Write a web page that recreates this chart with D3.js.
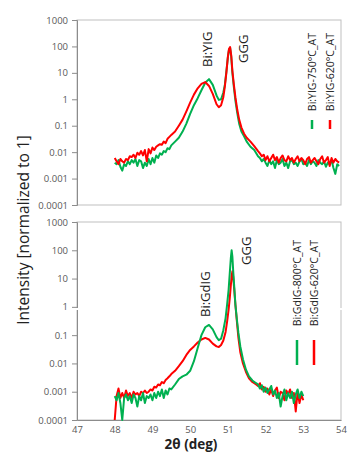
<!DOCTYPE html>
<html>
<head>
<meta charset="utf-8">
<script src="https://cdn.jsdelivr.net/npm/d3@7"></script>
<style>
	body { margin: 0; background: #fff; }
	svg { display: block; font-family: "Open Sans", sans-serif; }
</style>
</head>
<body>
<svg id="chart" width="348" height="455"></svg>
<script>
const yTicks = [1e-4, 1e-3, 1e-2, 1e-1, 1, 10, 100, 1000];
const yTickLabels = ["0.0001", "0.001", "0.01", "0.1", "1", "10", "100", "1000"];
const xTicks = [47, 48, 49, 50, 51, 52, 53, 54];
const xTickLabels = ["47", "48", "49", "50", "51", "52", "53", "54"];

// top panel (Bi:YIG on GGG)
const topX = [
	48.00, 48.05, 48.10, 48.15, 48.20, 48.25, 48.30, 48.35, 48.40, 48.45, 48.50, 48.55, 48.60, 48.65, 48.70, 48.75,
	48.80, 48.85, 48.90, 48.95, 49.00, 49.05, 49.10, 49.15, 49.20, 49.25, 49.30, 49.35, 49.40, 49.45, 49.50,
	49.6, 49.7, 49.8, 49.9, 50.0, 50.1, 50.2, 50.3, 50.4, 50.5, 50.6, 50.7,
	50.76, 50.82, 50.88, 50.92, 50.96, 51.00, 51.03, 51.06, 51.09, 51.12, 51.16, 51.20, 51.25, 51.30, 51.36, 51.43,
	51.50, 51.60, 51.70, 51.80,
	51.85, 51.90, 51.95, 52.00, 52.05, 52.10, 52.15, 52.20, 52.25, 52.30, 52.35, 52.40, 52.45, 52.50, 52.55, 52.60,
	52.65, 52.70, 52.75, 52.80, 52.85, 52.90, 52.95, 53.00, 53.05, 53.10, 53.15, 53.20, 53.25, 53.30, 53.35, 53.40,
	53.45, 53.50, 53.55, 53.60, 53.65, 53.70, 53.75, 53.80, 53.85, 53.90, 53.95
];
const topGreen750 = [
	0.004, 0.0035, 0.005, 0.0028, 0.002, 0.0035, 0.003, 0.0045, 0.0035, 0.005, 0.004, 0.0055, 0.003, 0.005, 0.0045, 0.0025,
	0.004, 0.003, 0.0055, 0.0035, 0.006, 0.004, 0.0075, 0.006, 0.009, 0.008, 0.011, 0.01, 0.014, 0.013, 0.018,
	0.025, 0.035, 0.06, 0.12, 0.28, 0.6, 1.1, 2.2, 4.2, 5.8, 3.5, 1.4,
	0.95, 1.0, 1.8, 3.5, 11, 38, 75, 88, 40, 10, 2.8, 0.9, 0.3, 0.12, 0.06, 0.04,
	0.025, 0.016, 0.012, 0.007,
	0.006, 0.0045, 0.0055, 0.004, 0.003, 0.005, 0.0035, 0.0045, 0.0025, 0.005, 0.0035, 0.004, 0.0055, 0.003, 0.004, 0.0025,
	0.0045, 0.005, 0.0035, 0.004, 0.003, 0.0045, 0.0055, 0.0035, 0.004, 0.003, 0.005, 0.0035, 0.0045, 0.004, 0.003, 0.005,
	0.004, 0.0035, 0.0045, 0.0028, 0.004, 0.0035, 0.005, 0.0025, 0.0015, 0.0035, 0.003
];
const topRed620 = [
	0.006, 0.0045, 0.0035, 0.0055, 0.0045, 0.004, 0.0055, 0.005, 0.007, 0.0065, 0.008, 0.006, 0.0095, 0.008, 0.011, 0.0075,
	0.012, 0.0045, 0.013, 0.009, 0.015, 0.012, 0.016, 0.018, 0.02, 0.019, 0.025, 0.022, 0.032, 0.038, 0.045,
	0.06, 0.1, 0.17, 0.35, 0.75, 1.5, 2.6, 3.8, 4.5, 3.2, 1.6, 0.65,
	0.5, 0.6, 1.2, 3, 10, 40, 80, 95, 45, 12, 3.5, 1.2, 0.4, 0.17, 0.085, 0.05,
	0.035, 0.025, 0.017, 0.011,
	0.009, 0.007, 0.008, 0.005, 0.007, 0.0045, 0.006, 0.008, 0.005, 0.0065, 0.004, 0.006, 0.0075, 0.005, 0.0045, 0.007,
	0.005, 0.006, 0.004, 0.0055, 0.007, 0.0045, 0.006, 0.005, 0.0035, 0.0055, 0.0065, 0.004, 0.005, 0.006, 0.0045, 0.0035,
	0.0055, 0.007, 0.004, 0.005, 0.0065, 0.003, 0.006, 0.004, 0.0055, 0.0045, 0.004
];

// bottom panel (Bi:GdIG on GGG)
const botX = [
	48.00, 48.05, 48.10, 48.15, 48.20, 48.25, 48.30, 48.35, 48.40, 48.45, 48.50, 48.55, 48.60, 48.65, 48.70, 48.75,
	48.80, 48.85, 48.90, 48.95, 49.00, 49.05, 49.10, 49.15, 49.20, 49.25, 49.30, 49.35, 49.40, 49.45, 49.50,
	49.6, 49.7, 49.8, 49.9, 50.0, 50.1, 50.2, 50.3, 50.4, 50.5, 50.6, 50.7,
	50.76, 50.82, 50.88, 50.94, 50.98, 51.02, 51.05, 51.08, 51.10, 51.12, 51.14, 51.17, 51.20, 51.24, 51.28, 51.33,
	51.40, 51.48, 51.56, 51.65, 51.75,
	51.80, 51.85, 51.90, 51.95, 52.00, 52.05, 52.10, 52.15, 52.20, 52.25, 52.30, 52.35, 52.40, 52.45, 52.50, 52.55,
	52.60, 52.65, 52.70, 52.75, 52.80, 52.85, 52.90, 52.95, 53.00
];
const botGreen800 = [
	0.0007, 0.0005, 0.0009, 0.0004, 0.0001, 0.0006, 0.0008, 0.0005, 0.0007, 0.0004, 0.0008, 0.0006, 0.0003, 0.0007, 0.0005, 0.0009,
	0.0004, 0.0007, 0.0006, 0.0008, 0.0005, 0.0009, 0.0006, 0.001, 0.0007, 0.0012, 0.0006, 0.0011, 0.0008, 0.0013, 0.0012,
	0.0018, 0.0028, 0.0035, 0.004, 0.0055, 0.012, 0.035, 0.1, 0.19, 0.23, 0.16, 0.085,
	0.066, 0.075, 0.15, 0.4, 1.2, 4, 15, 55, 100, 60, 20, 5, 1.2, 0.35, 0.12, 0.04,
	0.014, 0.006, 0.0035, 0.0025, 0.002,
	0.0018, 0.0013, 0.0017, 0.001, 0.0014, 0.0009, 0.0012, 0.0016, 0.0008, 0.0011, 0.0006, 0.0009, 0.0003, 0.0007, 0.0012, 0.0005,
	0.0009, 0.0006, 0.001, 0.0004, 0.0008, 0.0012, 0.0006, 0.001, 0.0007
];
const botRed620 = [
	0.0001, 0.0007, 0.0013, 0.0006, 0.0009, 0.0006, 0.0011, 0.0007, 0.0009, 0.0006, 0.001, 0.0008, 0.0009, 0.0007, 0.001, 0.0009,
	0.0011, 0.0009, 0.001, 0.0012, 0.0011, 0.0015, 0.0014, 0.0018, 0.0017, 0.0022, 0.002, 0.0026, 0.003, 0.0035, 0.0042,
	0.0055, 0.008, 0.012, 0.02, 0.03, 0.04, 0.055, 0.07, 0.08, 0.07, 0.05, 0.04,
	0.038, 0.045, 0.065, 0.13, 0.3, 0.8, 2, 6, 12, 18, 12, 4, 1.2, 0.3, 0.08, 0.025,
	0.01, 0.005, 0.003, 0.0022, 0.0018,
	0.0016, 0.002, 0.0012, 0.0015, 0.001, 0.0013, 0.0008, 0.0012, 0.0007, 0.0011, 0.0014, 0.0006, 0.001, 0.0009, 0.0005, 0.0011,
	0.0008, 0.0012, 0.0006, 0.0009, 0.0002, 0.001, 0.0004, 0.0008, 0.0005
];

const GREEN = "#00b050";
const RED = "#ff0000";

const svg = d3.select("#chart");

const x = d3.scaleLinear().domain([47, 54]).range([77, 341]);

const panels = [
	{
		top: 20, bottom: 205, xs: topX,
		series: [{ v: topGreen750, c: GREEN }, { v: topRed620, c: RED }],
		legend: [
			{ name: "Bi:YIG-750°C_AT", c: GREEN, x: 312 },
			{ name: "Bi:YIG-620°C_AT", c: RED, x: 330 }
		],
		legendTop: 33, legendLine: [120, 129],
		notes: [{ t: "Bi:YIG", x: 207, y: 67 }, { t: "GGG", x: 243, y: 63 }]
	},
	{
		top: 222, bottom: 420, xs: botX,
		series: [{ v: botRed620, c: RED }, { v: botGreen800, c: GREEN }],
		legend: [
			{ name: "Bi:GdIG-800°C_AT", c: GREEN, x: 297 },
			{ name: "Bi:GdIG-620°C_AT", c: RED, x: 314 }
		],
		legendTop: 240, legendLine: [340, 365],
		notes: [{ t: "Bi:GdIG", x: 205, y: 317 }, { t: "GGG", x: 246, y: 265 }]
	}
];

panels.forEach((p, pi) => {
	const y = d3.scaleLog().domain([1e-4, 1e3]).range([p.bottom, p.top]);
	const g = svg.append("g");

	// frame
	g.append("rect")
		.attr("x", x(47)).attr("y", p.top)
		.attr("width", x(54) - x(47)).attr("height", p.bottom - p.top)
		.attr("fill", "none").attr("stroke", "#bfbfbf");

	const yAxis = g.append("g")
		.attr("transform", `translate(${x(47)},0)`)
		.call(d3.axisLeft(y).tickValues(yTicks).tickFormat((d, i) => yTickLabels[i]).tickSize(5).tickPadding(4));
	yAxis.select(".domain").attr("stroke", "#8c8c8c");
	yAxis.selectAll(".tick line").attr("stroke", "#8c8c8c");
	yAxis.selectAll(".tick text").attr("fill", "#595959").style("font-size", "9.5px").style("font-family", "Open Sans");

	if (pi === 1) {
		// faint break in the lower frame
		g.append("rect").attr("x", 70).attr("y", 308).attr("width", 276).attr("height", 2).attr("fill", "#fff");

		const xAxis = g.append("g")
			.attr("transform", `translate(0,${p.bottom})`)
			.call(d3.axisBottom(x).tickValues(xTicks).tickFormat((d, i) => xTickLabels[i]).tickSize(0).tickPadding(6));
		xAxis.select(".domain").attr("stroke", "#8c8c8c");
		xAxis.selectAll(".tick text").attr("fill", "#595959").style("font-size", "9.5px").style("font-family", "Open Sans");
	}

	const line = d3.line()
		.x((d, i) => x(p.xs[i]))
		.y((d) => y(d));

	p.series.forEach((s) => {
		g.append("path")
			.datum(s.v)
			.attr("d", line)
			.attr("fill", "none")
			.attr("stroke", s.c)
			.attr("stroke-width", 2)
			.attr("stroke-linejoin", "round");
	});

	p.notes.forEach((n) => {
		g.append("text")
			.attr("transform", `translate(${n.x},${n.y}) rotate(-90)`)
			.attr("dy", "0.35em")
			.attr("fill", "#222")
			.style("font-size", "13px")
			.text(n.t);
	});

	p.legend.forEach((l) => {
		g.append("text")
			.attr("transform", `translate(${l.x},${p.legendTop}) rotate(-90)`)
			.attr("text-anchor", "end")
			.attr("dy", "0.35em")
			.attr("fill", "#222")
			.style("font-size", "10.5px")
			.text(l.name);
		g.append("line")
			.attr("x1", l.x).attr("x2", l.x)
			.attr("y1", p.legendLine[0]).attr("y2", p.legendLine[1])
			.attr("stroke", l.c).attr("stroke-width", 2.5);
	});
});

svg.append("text")
	.attr("transform", "translate(24,230) rotate(-90)")
	.attr("text-anchor", "middle")
	.attr("dy", "0.35em")
	.attr("fill", "#222")
	.style("font-size", "15.5px")
	.text("Intensity [normalized to 1]");

svg.append("text")
	.attr("x", 191).attr("y", 449)
	.attr("text-anchor", "middle")
	.attr("fill", "#222")
	.style("font-size", "13.5px")
	.style("font-weight", "bold")
	.text("2θ (deg)");
</script>
</body>
</html>
